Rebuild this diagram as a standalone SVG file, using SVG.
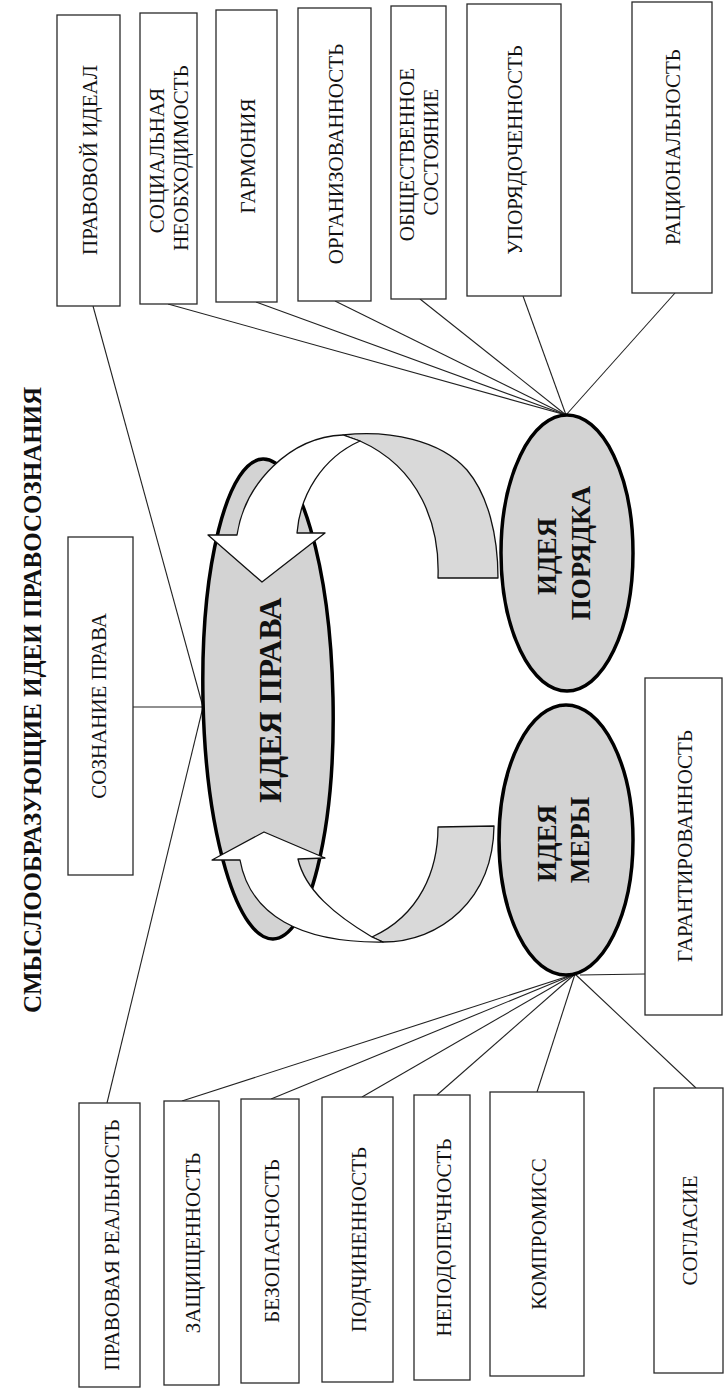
<svg xmlns="http://www.w3.org/2000/svg" width="725" height="1392" viewBox="0 0 725 1392">
  <style>
    .box { fill: #ffffff; stroke: #2a2a2a; stroke-width: 1.3; }
    .lbl { font-family: "Liberation Serif", "Times New Roman", serif; font-size: 21px; fill: #111; text-anchor: middle; }
    .ttl { font-family: "Liberation Serif", "Times New Roman", serif; font-size: 25px; font-weight: bold; fill: #111; text-anchor: middle; }
    .big { font-family: "Liberation Serif", "Times New Roman", serif; font-weight: bold; fill: #111; text-anchor: middle; }
    .link { stroke: #222; stroke-width: 1.1; fill: none; }
    .idea { fill: #d3d3d3; stroke: #000; stroke-width: 3.5; }
    .rib-w { fill: #ffffff; stroke: #111; stroke-width: 1.3; stroke-linejoin: round; }
    .rib-g { fill: #d9d9d9; stroke: #111; stroke-width: 1.3; stroke-linejoin: round; }
  </style>

  <!-- heading, printed sideways -->
  <text class="ttl" transform="translate(41,700) rotate(-90)">СМЫСЛООБРАЗУЮЩИЕ ИДЕИ ПРАВОСОЗНАНИЯ</text>

  <!-- connectors -->
  <g id="connectors">
    <!-- to ИДЕЯ ПРАВА -->
    <line class="link" x1="93" y1="306" x2="203" y2="707"/>
    <line class="link" x1="133" y1="707" x2="203" y2="707"/>
    <line class="link" x1="203" y1="707" x2="107" y2="1103"/>
    <!-- to ИДЕЯ ПОРЯДКА -->
    <line class="link" x1="168" y1="304" x2="566" y2="415"/>
    <line class="link" x1="256" y1="302" x2="566" y2="415"/>
    <line class="link" x1="335" y1="301" x2="566" y2="415"/>
    <line class="link" x1="420" y1="299" x2="566" y2="415"/>
    <line class="link" x1="523" y1="296" x2="566" y2="415"/>
    <line class="link" x1="675" y1="293" x2="566" y2="415"/>
    <!-- to ИДЕЯ МЕРЫ -->
    <line class="link" x1="575" y1="974" x2="182" y2="1101"/>
    <line class="link" x1="575" y1="974" x2="271" y2="1099"/>
    <line class="link" x1="575" y1="974" x2="362" y2="1097"/>
    <line class="link" x1="575" y1="974" x2="437" y2="1095"/>
    <line class="link" x1="575" y1="974" x2="537" y2="1092"/>
    <line class="link" x1="575" y1="974" x2="696" y2="1088"/>
    <line class="link" x1="580" y1="975" x2="645" y2="974"/>
  </g>

  <!-- central idea -->
  <g id="idea-prava">
    <ellipse class="idea" cx="268" cy="699" rx="65" ry="240" transform="rotate(-1.2 268 699)"/>
    <text class="big" font-size="32" transform="translate(281,700) rotate(-90)">ИДЕЯ ПРАВА</text>
  </g>

  <!-- curved ribbon arrows -->
  <g id="arrows">
    <!-- upper ribbon: from ИДЕЯ ПОРЯДКА over the top down into ИДЕЯ ПРАВА -->
    <path class="rib-g" d="M343,435 C390,430 440,440 467,470 C488,495 498,535 498,578 L438,578 C440,525 420,468 360,441 Z"/>
    <path class="rib-w" d="M343,435 C290,437 245,483 237,535 L208,535 L262,582 L325,533 L297,533 C300,495 322,458 360,441 Z"/>
    <!-- lower ribbon: from ИДЕЯ МЕРЫ under the bottom up into ИДЕЯ ПРАВА -->
    <path class="rib-g" d="M383,942 C440,942 493,900 494,826 L438,827 C438,870 420,915 372,937 Z"/>
    <path class="rib-w" d="M240,860 C250,915 300,943 383,942 L372,937 C335,915 305,890 298,859 L325,858 L264,832 L212,860 Z"/>
  </g>

  <g id="idea-poryadka">
    <ellipse class="idea" cx="567" cy="553" rx="66" ry="138"/>
    <text class="big" font-size="27" transform="translate(556,553) rotate(-90)">
      <tspan x="0" y="0">ИДЕЯ</tspan>
      <tspan x="0" y="34">ПОРЯДКА</tspan>
    </text>
  </g>

  <g id="idea-mery">
    <ellipse class="idea" cx="566" cy="840" rx="67" ry="135"/>
    <text class="big" font-size="27" transform="translate(556,840) rotate(-90)">
      <tspan x="0" y="0">ИДЕЯ</tspan>
      <tspan x="0" y="33">МЕРЫ</tspan>
    </text>
  </g>

  <!-- upper row -->
  <g id="pravovoy-ideal">
    <rect class="box" x="57" y="15" width="63" height="291"/>
    <text class="lbl" transform="translate(96.5,160) rotate(-90)">ПРАВОВОЙ ИДЕАЛ</text>
  </g>
  <g id="sotsialnaya-neobkhodimost">
    <rect class="box" x="140" y="13" width="57" height="291"/>
    <text class="lbl" transform="translate(163.5,158) rotate(-90)">
      <tspan x="0" y="0">СОЦИАЛЬНАЯ</tspan>
      <tspan x="0" y="24">НЕОБХОДИМОСТЬ</tspan>
    </text>
  </g>
  <g id="garmoniya">
    <rect class="box" x="216" y="10" width="61" height="292"/>
    <text class="lbl" transform="translate(254.5,156) rotate(-90)">ГАРМОНИЯ</text>
  </g>
  <g id="organizovannost">
    <rect class="box" x="298" y="8" width="73" height="293"/>
    <text class="lbl" transform="translate(342.5,154) rotate(-90)">ОРГАНИЗОВАННОСТЬ</text>
  </g>
  <g id="obshchestvennoe-sostoyanie">
    <rect class="box" x="391" y="6" width="55" height="293"/>
    <text class="lbl" transform="translate(413.5,152) rotate(-90)">
      <tspan x="0" y="0">ОБЩЕСТВЕННОЕ</tspan>
      <tspan x="0" y="24">СОСТОЯНИЕ</tspan>
    </text>
  </g>
  <g id="uporyadochennost">
    <rect class="box" x="467" y="4" width="94" height="292"/>
    <text class="lbl" transform="translate(522,150) rotate(-90)">УПОРЯДОЧЕННОСТЬ</text>
  </g>
  <g id="ratsionalnost">
    <rect class="box" x="632" y="2" width="80" height="291"/>
    <text class="lbl" transform="translate(680,147) rotate(-90)">РАЦИОНАЛЬНОСТЬ</text>
  </g>

  <!-- left -->
  <g id="soznanie-prava">
    <rect class="box" x="68" y="537" width="65" height="338"/>
    <text class="lbl" transform="translate(106,706) rotate(-90)">СОЗНАНИЕ ПРАВА</text>
  </g>

  <!-- right -->
  <g id="garantirovannost">
    <rect class="box" x="645" y="678" width="77" height="337"/>
    <text class="lbl" transform="translate(692,846) rotate(-90)">ГАРАНТИРОВАННОСТЬ</text>
  </g>

  <!-- lower row -->
  <g id="pravovaya-realnost">
    <rect class="box" x="79" y="1103" width="61" height="284"/>
    <text class="lbl" transform="translate(118.5,1245) rotate(-90)">ПРАВОВАЯ РЕАЛЬНОСТЬ</text>
  </g>
  <g id="zashchishchennost">
    <rect class="box" x="164" y="1101" width="55" height="284"/>
    <text class="lbl" transform="translate(200,1243) rotate(-90)">ЗАЩИЩЕННОСТЬ</text>
  </g>
  <g id="bezopasnost">
    <rect class="box" x="241" y="1099" width="58" height="284"/>
    <text class="lbl" transform="translate(279,1241) rotate(-90)">БЕЗОПАСНОСТЬ</text>
  </g>
  <g id="podchinennost">
    <rect class="box" x="322" y="1097" width="71" height="285"/>
    <text class="lbl" transform="translate(366,1239.5) rotate(-90)">ПОДЧИНЕННОСТЬ</text>
  </g>
  <g id="nepodopechnost">
    <rect class="box" x="414" y="1095" width="56" height="285"/>
    <text class="lbl" transform="translate(451,1237.5) rotate(-90)">НЕПОДОПЕЧНОСТЬ</text>
  </g>
  <g id="kompromiss">
    <rect class="box" x="490" y="1092" width="94" height="284"/>
    <text class="lbl" transform="translate(546,1234) rotate(-90)">КОМПРОМИСС</text>
  </g>
  <g id="soglasie">
    <rect class="box" x="654" y="1088" width="69" height="285"/>
    <text class="lbl" transform="translate(697,1230.5) rotate(-90)">СОГЛАСИЕ</text>
  </g>
</svg>
